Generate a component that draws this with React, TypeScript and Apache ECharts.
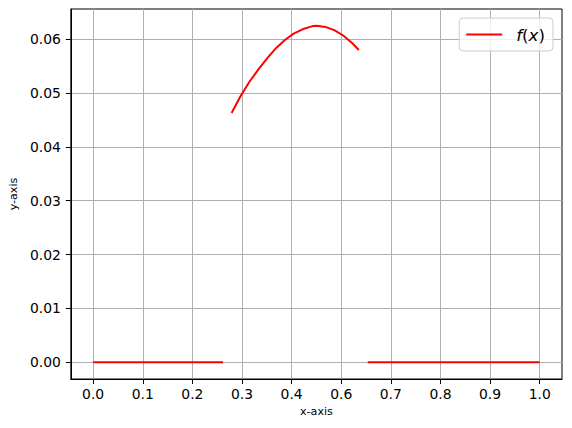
import React, { useEffect, useRef } from "react";
import * as echarts from "echarts";

// Tick positions (np.linspace(0, 1, 10)) and their printed labels
const xTickValues = [0, 1 / 9, 2 / 9, 3 / 9, 4 / 9, 5 / 9, 6 / 9, 7 / 9, 8 / 9, 1];
const xTickLabels = ["0.0", "0.1", "0.2", "0.3", "0.4", "0.6", "0.7", "0.8", "0.9", "1.0"];
const yTickValues = [0, 0.01, 0.02, 0.03, 0.04, 0.05, 0.06];
const yTickLabels = ["0.00", "0.01", "0.02", "0.03", "0.04", "0.05", "0.06"];

// f(x): zero, bump, zero
const leftZeroX = [0, 0.291];
const leftZeroY = [0, 0];
const curveX = [0.31, 0.33, 0.35, 0.37, 0.39, 0.41, 0.43, 0.45, 0.47, 0.49, 0.5, 0.52, 0.54, 0.56, 0.58, 0.595];
const curveY = [0.0463, 0.0494, 0.0521, 0.0544, 0.0565, 0.0584, 0.0599, 0.0611, 0.0619, 0.0624, 0.0625, 0.0623, 0.0617, 0.0607, 0.0593, 0.058];
const rightZeroX = [0.615, 1.0];
const rightZeroY = [0, 0];

const seriesName = "f(x)";
const FONT = "DejaVu Sans";

function labelFor(values: number[], labels: string[], v: number): string {
  let best = 0;
  for (let i = 1; i < values.length; i++) {
    if (Math.abs(values[i] - v) < Math.abs(values[best] - v)) best = i;
  }
  return labels[best];
}

export default function App() {
  const ref = useRef<HTMLDivElement>(null);
  useEffect(() => {
    document.body.style.margin = "0";
    if (!ref.current) return;
    const chart = echarts.init(ref.current, null, { renderer: "svg" });

    const data: any[] = [];
    leftZeroX.forEach((x, i) => data.push([x, leftZeroY[i]]));
    data.push([(leftZeroX[leftZeroX.length - 1] + curveX[0]) / 2, "-"]);
    curveX.forEach((x, i) => data.push([x, curveY[i]]));
    data.push([(curveX[curveX.length - 1] + rightZeroX[0]) / 2, "-"]);
    rightZeroX.forEach((x, i) => data.push([x, rightZeroY[i]]));

    const option: any = {
      animation: false,
      backgroundColor: "#ffffff",
      grid: {
        left: 67,
        right: 10,
        top: 9,
        bottom: 49,
        show: true,
        borderColor: "#000000",
        borderWidth: 1,
        backgroundColor: "transparent",
      },
      legend: {
        show: true,
        right: 19,
        top: 18,
        orient: "vertical",
        backgroundColor: "rgba(255,255,255,0.8)",
        borderColor: "#cccccc",
        borderWidth: 1,
        borderRadius: 4,
        padding: [8, 8, 8, 7],
        icon: "rect",
        itemWidth: 36,
        itemHeight: 2,
        itemStyle: { color: "#ff0000", borderWidth: 0 },
        data: [seriesName],
        formatter: () => "{i|f}{n|(}{i|x}{n|)}",
        textStyle: {
          padding: [0, 0, 0, 9],
          color: "#000",
          rich: {
            i: { fontFamily: FONT, fontStyle: "italic", fontSize: 16.7, color: "#000" },
            n: { fontFamily: FONT, fontSize: 16.7, color: "#000" },
          },
        },
      },
      xAxis: {
        type: "value",
        min: -0.05,
        max: 1.05,
        name: "x-axis",
        nameLocation: "middle",
        nameGap: 27,
        nameTextStyle: { fontFamily: FONT, fontSize: 11.1, color: "#000" },
        axisLine: { show: true, onZero: false, lineStyle: { color: "#000", width: 1 } },
        axisTick: {
          show: true,
          inside: false,
          length: 5,
          customValues: xTickValues,
          lineStyle: { color: "#000", width: 1 },
        },
        axisLabel: {
          show: true,
          margin: 8,
          customValues: xTickValues,
          fontFamily: FONT,
          fontSize: 13.9,
          color: "#000",
          formatter: (v: number) => labelFor(xTickValues, xTickLabels, v),
        },
        splitLine: { show: true, lineStyle: { color: "#b0b0b0", width: 1 } },
      },
      yAxis: {
        type: "value",
        min: -0.003125,
        max: 0.065625,
        name: "y-axis",
        nameLocation: "middle",
        nameGap: 46,
        nameRotate: 90,
        nameTextStyle: { fontFamily: FONT, fontSize: 11.1, color: "#000" },
        axisLine: { show: true, onZero: false, lineStyle: { color: "#000", width: 1 } },
        axisTick: {
          show: true,
          inside: false,
          length: 5,
          customValues: yTickValues,
          lineStyle: { color: "#000", width: 1 },
        },
        axisLabel: {
          show: true,
          margin: 10,
          customValues: yTickValues,
          fontFamily: FONT,
          fontSize: 13.9,
          color: "#000",
          formatter: (v: number) => labelFor(yTickValues, yTickLabels, v),
        },
        splitLine: { show: true, lineStyle: { color: "#b0b0b0", width: 1 } },
      },
      series: [
        {
          name: seriesName,
          type: "line",
          data,
          symbol: "none",
          showSymbol: false,
          connectNulls: false,
          lineStyle: { color: "#ff0000", width: 2 },
          itemStyle: { color: "#ff0000" },
          z: 3,
        },
      ],
    };
    chart.setOption(option);
    return () => chart.dispose();
  }, []);
  return (
    <div
      ref={ref}
      style={{ position: "absolute", left: 0, top: 0, width: 572, height: 428 }}
    />
  );
}
